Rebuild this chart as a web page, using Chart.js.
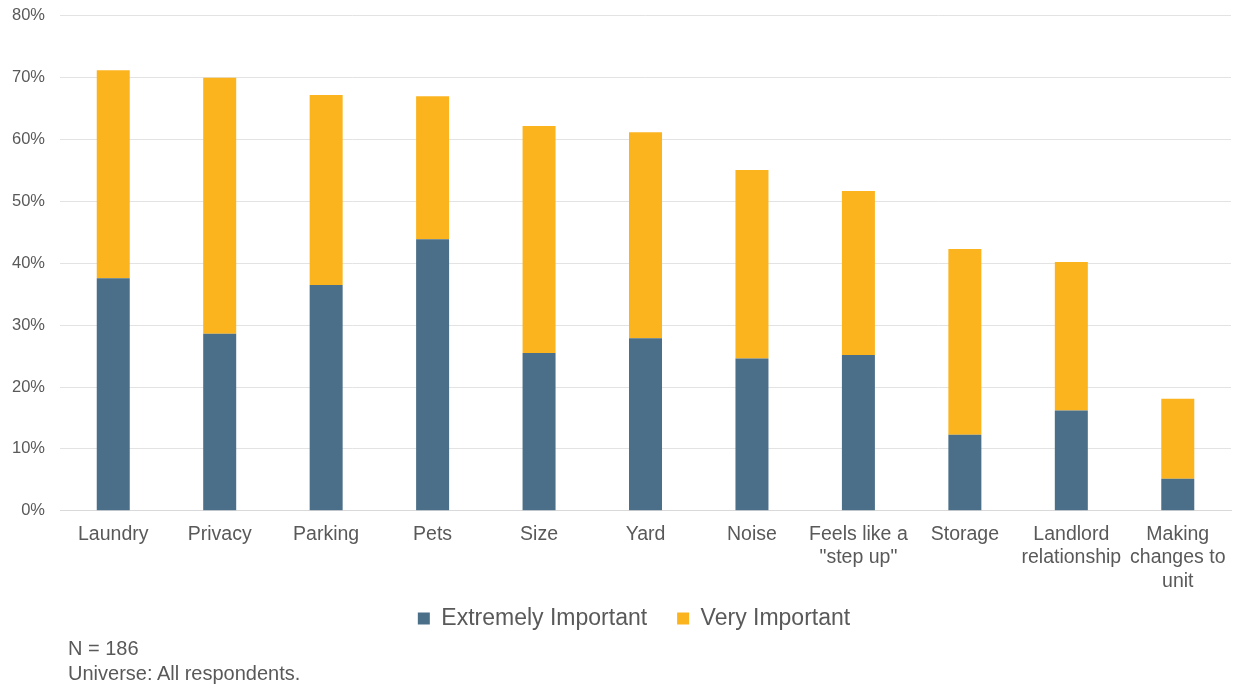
<!DOCTYPE html>
<html>
<head>
<meta charset="utf-8">
<script src="https://cdn.jsdelivr.net/npm/chart.js@4/dist/chart.umd.min.js"></script>
<style>
  body { margin: 0; background: #fff; font-family: "Liberation Sans", Arial, sans-serif; overflow: hidden; }
  #wrap { position: absolute; left: 0; top: -9px; width: 1249px; height: 672px; }
  .note { position: absolute; left: 68px; font-size: 20px; color: #595959; line-height: 25px; }
</style>
</head>
<body>
<div id="wrap"><canvas id="bar-chart" width="1249" height="672"></canvas></div>
<div class="note" style="top:636px">N = 186<br>Universe: All respondents.</div>
<script>
// categories and values (% of respondents)
var categories = [
  "Laundry", "Privacy", "Parking", "Pets", "Size", "Yard", "Noise",
  ["Feels like a", "\"step up\""], "Storage", ["Landlord", "relationship"],
  ["Making", "changes to", "unit"]
];
var extremelyImportant = [37.6, 28.6, 36.5, 43.9, 25.5, 27.9, 24.6, 25.2, 12.3, 16.2, 5.2];
var veryImportant      = [33.6, 41.4, 30.7, 23.1, 36.7, 33.3, 30.5, 26.5, 30.0, 24.0, 12.9];
var yTicks = [0, 10, 20, 30, 40, 50, 60, 70, 80];

var textGrey = "#595959";

// legend padding also sets the gap between items, so pull the legend up a bit
// to keep the wide gap without pushing it down the page
var legendNudge = {
  id: 'legendNudge',
  afterLayout: function(chart) {
    var lg = chart.legend;
    lg.top -= 20; lg.bottom -= 20;
    lg.left += 20; lg.right += 20;
  }
};

new Chart(document.getElementById("bar-chart"), {
  type: 'bar',
  data: {
    labels: categories,
    datasets: [{
      label: "Extremely Important",
      backgroundColor: "#4b6f88",
      data: extremelyImportant
    }, {
      label: "Very Important",
      backgroundColor: "#fbb41e",
      data: veryImportant
    }]
  },
  options: {
    responsive: false,
    animation: false,
    layout: { padding: { top: 0, right: 18, left: -3, bottom: 3 } },
    datasets: { bar: { barPercentage: 0.31, categoryPercentage: 1.0 } },
    scales: {
      x: {
        stacked: true,
        grid: { display: false },
        border: { color: "#d9d9d9" },
        ticks: {
          color: textGrey, maxRotation: 0, autoSkip: false, padding: 4,
          font: { family: "Liberation Sans", size: 19.5, lineHeight: 1.2 }
        }
      },
      y: {
        stacked: true,
        min: 0, max: 80,
        afterBuildTicks: function(axis) {
          axis.ticks = yTicks.map(function(v) { return { value: v }; });
        },
        grid: { color: "#e3e3e3", drawTicks: false },
        border: { display: false },
        ticks: {
          color: textGrey, padding: 15,
          font: { family: "Liberation Sans", size: 16.5 },
          callback: function(v) { return v + "%"; }
        }
      }
    },
    plugins: {
      tooltip: { enabled: false },
      legend: {
        position: 'bottom',
        labels: {
          color: textGrey, boxWidth: 12, boxHeight: 12, padding: 30,
          font: { family: "Liberation Sans", size: 23 }
        }
      }
    }
  },
  plugins: [legendNudge]
});
</script>
</body>
</html>
